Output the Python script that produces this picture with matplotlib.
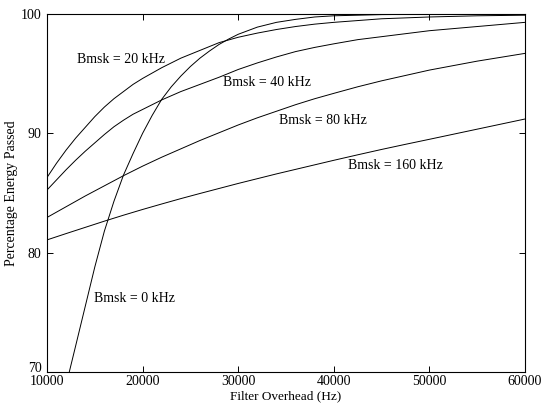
import matplotlib
matplotlib.use("Agg")
import matplotlib.pyplot as plt
from matplotlib.transforms import ScaledTranslation

plt.rcParams['font.family'] = ['Liberation Serif', 'DejaVu Serif']

# ---- data ----
x_0k = [12330, 13000, 14000, 15000, 16000, 17000, 18000, 19000, 20000, 21000, 22000,
        23000, 24000, 25000, 26000, 27000, 28000, 29000, 30000, 32000, 34000, 36000,
        38000, 40000, 45000, 50000, 55000, 60000]
y_0k = [70.0, 72.2, 75.5, 78.8, 81.8, 84.3, 86.5, 88.3, 90.0, 91.5, 92.85,
        93.9, 94.8, 95.6, 96.3, 96.9, 97.45, 97.9, 98.3, 98.9, 99.3, 99.55,
        99.75, 99.85, 99.95, 99.98, 99.99, 100.0]

x_20k = [10000, 11000, 12000, 13000, 14000, 15000, 16000, 17000, 18000, 19000, 20000,
         22000, 24000, 26000, 28000, 30000, 32000, 34000, 36000, 38000, 40000, 42500,
         45000, 50000, 55000, 60000]
y_20k = [86.3, 87.5, 88.6, 89.6, 90.5, 91.4, 92.2, 92.9, 93.5, 94.1, 94.6,
         95.5, 96.3, 96.95, 97.6, 98.05, 98.4, 98.7, 98.95, 99.15, 99.3, 99.45,
         99.6, 99.75, 99.85, 99.9]

x_40k = [10000, 11000, 12000, 13000, 14000, 15000, 16000, 17000, 18000, 19000, 20000,
         22000, 24000, 26000, 28000, 30000, 32000, 34000, 36000, 38000, 40000, 42500,
         45000, 47500, 50000, 55000, 60000]
y_40k = [85.25, 86.1, 86.95, 87.75, 88.5, 89.2, 89.9, 90.55, 91.1, 91.6, 92.0,
         92.8, 93.5, 94.1, 94.7, 95.35, 95.9, 96.4, 96.85, 97.2, 97.5, 97.85,
         98.1, 98.35, 98.6, 98.95, 99.3]

x_80k = [10000, 12000, 14000, 16000, 18000, 20000, 22000, 24000, 26000, 28000, 30000,
         32000, 34000, 36000, 38000, 40000, 42500, 45000, 47500, 50000, 55000, 60000]
y_80k = [82.95, 83.85, 84.75, 85.6, 86.45, 87.25, 88.0, 88.7, 89.4, 90.05, 90.7,
         91.3, 91.85, 92.4, 92.9, 93.35, 93.9, 94.4, 94.85, 95.3, 96.05, 96.7]

x_160k = [10000, 12000, 14000, 16000, 18000, 20000, 22000, 24000, 26000, 28000, 30000,
          32000, 34000, 36000, 38000, 40000, 42500, 45000, 47500, 50000, 55000, 60000]
y_160k = [81.07, 81.6, 82.12, 82.64, 83.14, 83.62, 84.08, 84.53, 84.96, 85.38, 85.8,
          86.2, 86.6, 86.98, 87.36, 87.74, 88.2, 88.65, 89.08, 89.5, 90.35, 91.2]

labels = ["Bmsk = 0 kHz", "Bmsk = 20 kHz", "Bmsk = 40 kHz", "Bmsk = 80 kHz", "Bmsk = 160 kHz"]
label_x = [14920, 13100, 28410, 34270, 41480]
label_y = [76.2, 96.2, 94.3, 91.1, 87.3]

x_ticks = [10000, 20000, 30000, 40000, 50000, 60000]
y_ticks = [70, 80, 90, 100]

# ---- figure ----
fig = plt.figure(figsize=(5.42, 4.05), dpi=100)
ax = fig.add_axes([47/542, 1-372/405, (525-47)/542, (372-14)/405])

for xs, ys in [(x_0k, y_0k), (x_20k, y_20k), (x_40k, y_40k), (x_80k, y_80k), (x_160k, y_160k)]:
    ax.plot(xs, ys, color='black', lw=0.7)

for t, lx, ly in zip(labels, label_x, label_y):
    ax.text(lx, ly, t, fontsize=10, ha='left', va='center', color='black')

ax.set_xlim(10000, 60000)
ax.set_ylim(70, 100)
ax.set_xticks(x_ticks)
ax.set_yticks(y_ticks)
ax.tick_params(direction='in', top=True, right=True, length=4, width=0.7,
               labelsize=10, colors='black')
ax.tick_params(axis='x', pad=2)
ax.tick_params(axis='y', pad=4)
for s in ax.spines.values():
    s.set_linewidth(0.8)
    s.set_color('black')

# nudge the lowest y tick label up a little so it clears the x tick labels
lowest = ax.yaxis.get_major_ticks()[0].label1
lowest.set_transform(lowest.get_transform() + ScaledTranslation(0, 5/100, fig.dpi_scale_trans))

ax.set_xlabel("Filter Overhead (Hz)", fontsize=9.5)
ax.xaxis.set_label_coords(0.5, -0.0505)
ax.set_ylabel("Percentage Energy Passed", fontsize=10, labelpad=2)

fig.savefig("out.png", dpi=100)
